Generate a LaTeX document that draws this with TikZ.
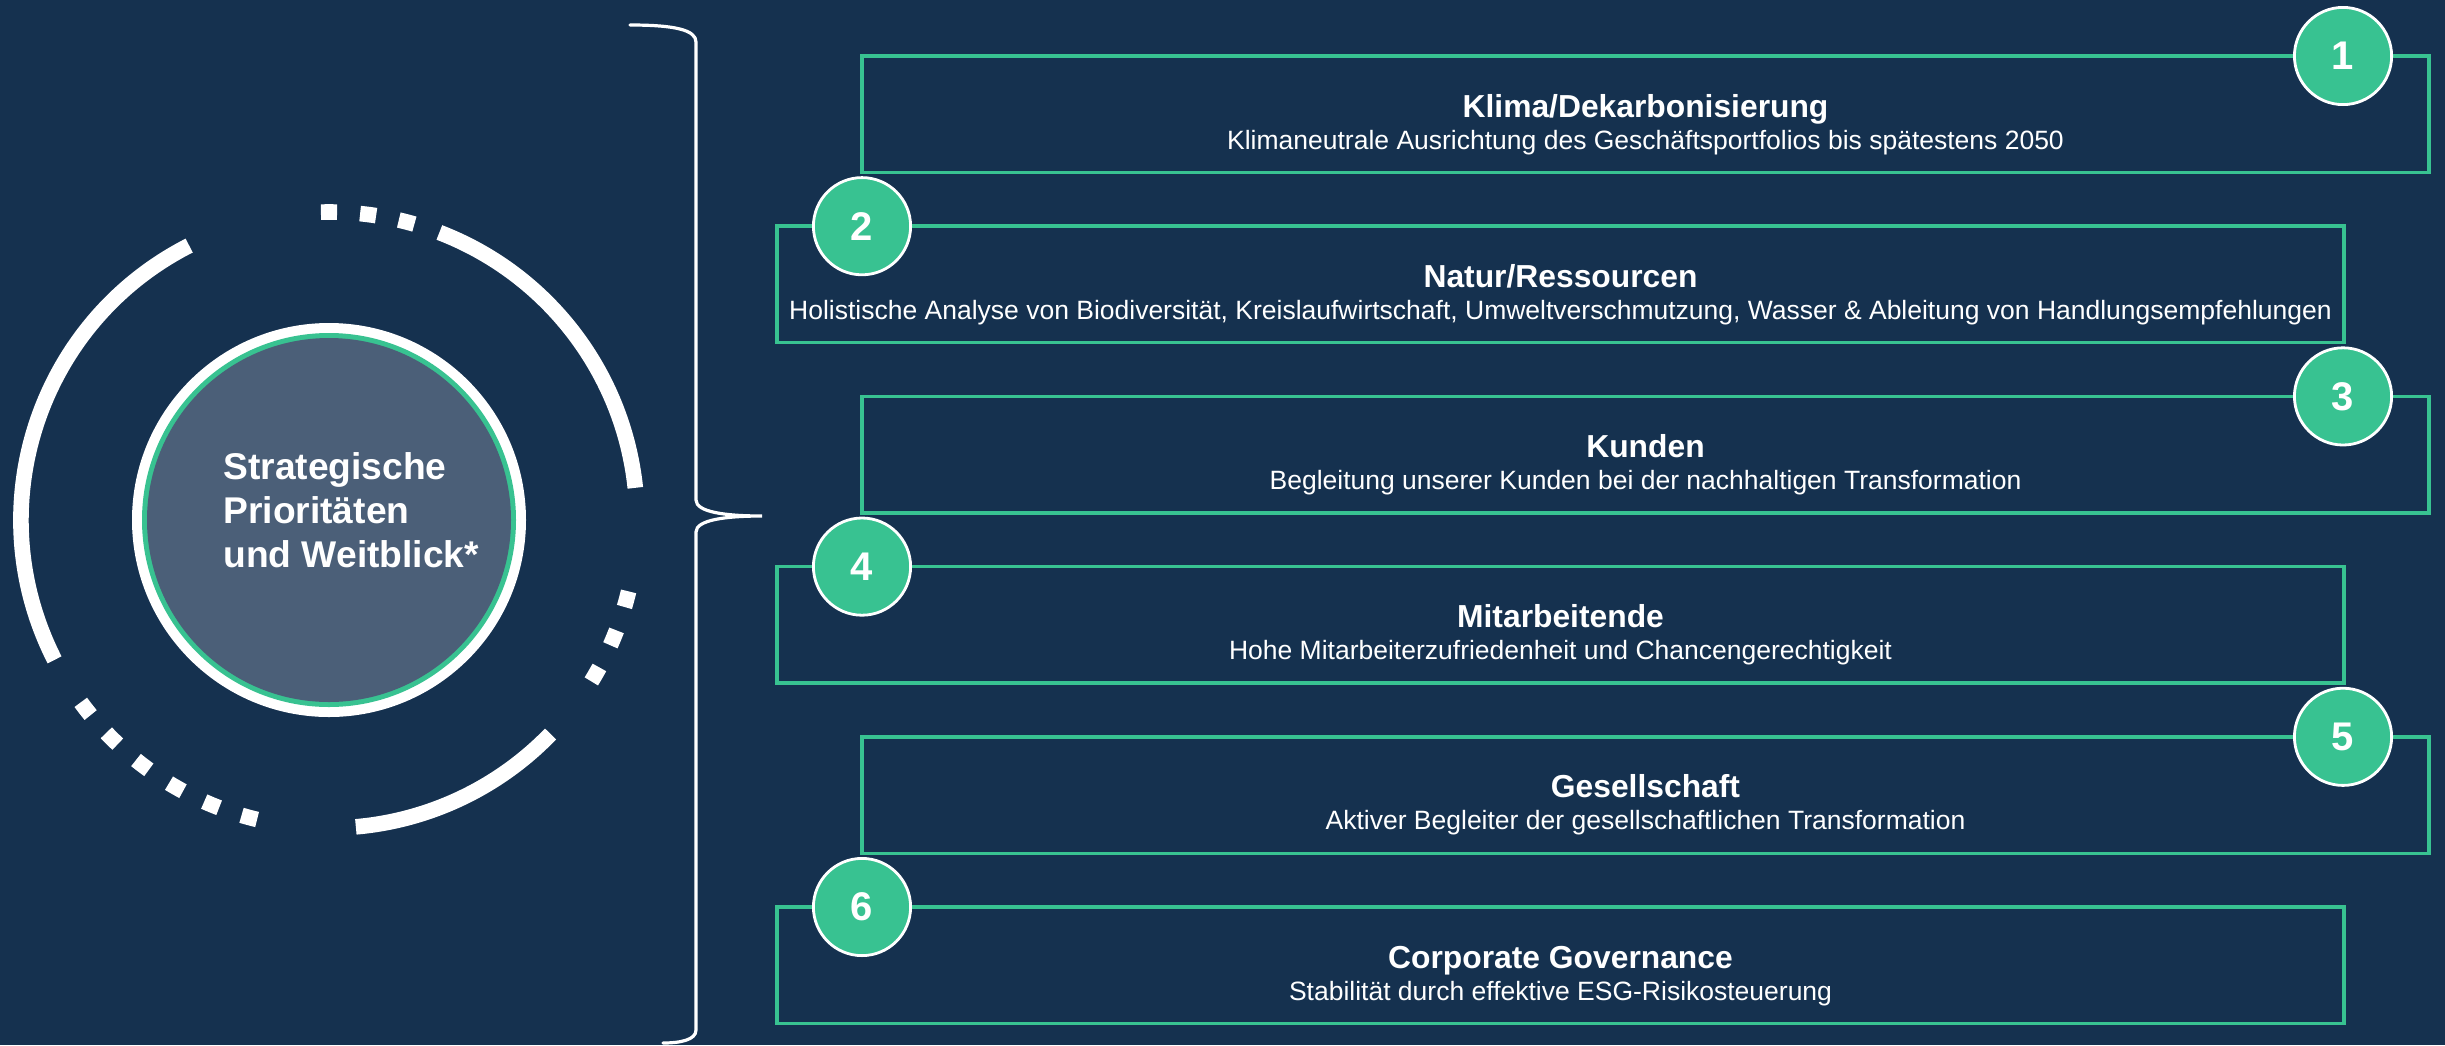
\documentclass[tikz,border=0pt]{standalone}
\usepackage{fontspec}
\setmainfont{Liberation Sans}
\usetikzlibrary{calc}
\definecolor{bg}{HTML}{15314F}
\definecolor{accent}{HTML}{38C291}
\definecolor{core}{HTML}{4B5F78}
\begin{document}
\begin{tikzpicture}[x=0.5pt,y=-0.5pt,
  boxA/.style={draw=accent, line width=1.75pt, minimum width=783.5pt, minimum height=58.25pt, inner sep=0pt, outer sep=0pt},
  badge/.style={circle, fill=accent, draw=white, line width=1.4pt, minimum size=48.6pt, inner sep=0pt, text=white, font=\fontsize{20}{24}\selectfont\bfseries},
  ttl/.style={text=white, font=\fontsize{15.9}{19}\selectfont\bfseries, anchor=base, inner sep=0pt},
  subt/.style={text=white, font=\fontsize{13.25}{16}\selectfont, anchor=base, inner sep=0pt},
  ring/.style={draw=white, line width=7.8pt},
  brace/.style={draw=white, line width=1.6pt, line cap=round}]
\useasboundingbox (0,0) rectangle (2445,1045);
\fill[bg] (0,0) rectangle (2445,1045);

% left emblem
\coordinate (c) at (329,520);
\fill[white] (c) circle[radius=98.5pt];
\fill[accent] (c) circle[radius=93.5pt];
\fill[core] (c) circle[radius=91pt];
\node[anchor=base west, align=left, inner sep=0pt, text=white,
      font=\fontsize{18.6}{22}\selectfont\bfseries] (core) at (223,567)
      {Strategische\\Prioritäten\\und Weitblick*};

\draw[ring] (c) ++(117:154pt) arc[start angle=117, end angle=207, radius=154pt];
\draw[ring] (c) ++(6:154pt) arc[start angle=6, end angle=69, radius=154pt];
\draw[ring] (c) ++(-85:154pt) arc[start angle=-85, end angle=-44, radius=154pt];
\foreach \a in {90,82.7,75.4,-14.9,-22.5,-30.1,217.8,225.2,232.7,240.2,247.6,255}
  \draw[ring] (c) ++(\a-1.5:154pt) arc[start angle=\a-1.5, end angle=\a+1.5, radius=154pt];

% brace
\draw[brace] (630,25) .. controls (675,25) and (696,30) .. (696,42) -- (696,500)
  .. controls (696,512) and (725,516) .. (762,516)
  .. controls (725,516) and (696,520) .. (696,532) -- (696,1030)
  .. controls (696,1040) and (680,1043) .. (663,1043);

% boxes
\node[boxA] (b1) at (1645.5,114.25) {};
\node[boxA] (b2) at (1560.5,284.45) {};
\node[boxA] (b3) at (1645.5,454.65) {};
\node[boxA] (b4) at (1560.5,624.85) {};
\node[boxA] (b5) at (1645.5,795.05) {};
\node[boxA] (b6) at (1560.5,965.25) {};

\node[badge] (n1) at ($(b1.north east)+(-86,0)$) {1};
\node[badge] (n2) at ($(b2.north west)+(85,0)$) {2};
\node[badge] (n3) at ($(b3.north east)+(-86,0)$) {3};
\node[badge] (n4) at ($(b4.north west)+(85,0)$) {4};
\node[badge] (n5) at ($(b5.north east)+(-86,0)$) {5};
\node[badge] (n6) at ($(b6.north west)+(85,0)$) {6};

\node[ttl] (t1) at ($(b1.north)+(0,61)$) {Klima/Dekarbonisierung};
\node[subt] (s1) at ($(b1.north)+(0,93)$) {Klimaneutrale Ausrichtung des Geschäftsportfolios bis spätestens 2050};
\node[ttl] (t2) at ($(b2.north)+(0,61)$) {Natur/Ressourcen};
\node[subt] (s2) at ($(b2.north)+(0,93)$) {Holistische Analyse von Biodiversität, Kreislaufwirtschaft, Umweltverschmutzung, Wasser \& Ableitung von Handlungsempfehlungen};
\node[ttl] (t3) at ($(b3.north)+(0,61)$) {Kunden};
\node[subt] (s3) at ($(b3.north)+(0,93)$) {Begleitung unserer Kunden bei der nachhaltigen Transformation};
\node[ttl] (t4) at ($(b4.north)+(0,61)$) {Mitarbeitende};
\node[subt] (s4) at ($(b4.north)+(0,93)$) {Hohe Mitarbeiterzufriedenheit und Chancengerechtigkeit};
\node[ttl] (t5) at ($(b5.north)+(0,61)$) {Gesellschaft};
\node[subt] (s5) at ($(b5.north)+(0,93)$) {Aktiver Begleiter der gesellschaftlichen Transformation};
\node[ttl] (t6) at ($(b6.north)+(0,61)$) {Corporate Governance};
\node[subt] (s6) at ($(b6.north)+(0,93)$) {Stabilität durch effektive ESG-Risikosteuerung};
\end{tikzpicture}
\end{document}
